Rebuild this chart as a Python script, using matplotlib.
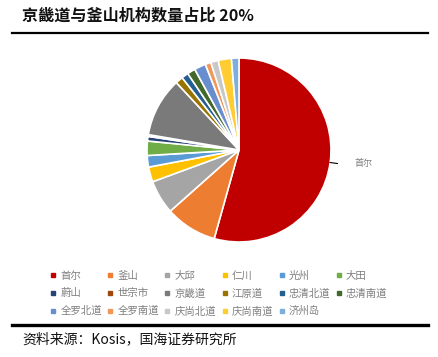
import numpy as np
import matplotlib
matplotlib.use("Agg")
import matplotlib.pyplot as plt
from matplotlib.lines import Line2D

plt.rcParams['font.family'] = ['Noto Sans CJK SC', 'DejaVu Sans']

# 数据
regions = ["首尔", "釜山", "大邱", "仁川", "光州", "大田",
           "蔚山", "世宗市", "京畿道", "江原道", "忠清北道", "忠清南道",
           "全罗北道", "全罗南道", "庆尚北道", "庆尚南道", "济州岛"]
shares = [53.8, 9.0, 5.9, 2.6, 2.0, 2.5,
          0.8, 0.3, 10.3, 1.3, 1.2, 1.4,
          2.0, 1.0, 1.3, 2.3, 1.3]
colors = ["#C00000", "#ED7D31", "#A5A5A5", "#FFC000", "#5B9BD5", "#70AD47",
          "#264478", "#9E480E", "#7A7A7A", "#997300", "#255E91", "#43682B",
          "#698ED0", "#F1975A", "#C8C8C8", "#FFCD33", "#7CAFDD"]

W, H = 439, 357
fig = plt.figure(figsize=(W / 100, H / 100), dpi=100)

# 标题与分隔线
fig.text(22 / W, 1 - 16 / H, "京畿道与釜山机构数量占比 20%", fontsize=11.6,
         fontweight="bold", va="center", ha="left", color="#111111")
fig.add_artist(Line2D([12 / W, 428 / W], [1 - 33 / H, 1 - 33 / H], color="black", lw=1.6))
fig.add_artist(Line2D([12 / W, 428 / W], [1 - 325 / H, 1 - 325 / H], color="black", lw=2.4))
fig.text(22 / W, 1 - 339 / H, "资料来源：Kosis，国海证券研究所", fontsize=10,
         va="center", ha="left", color="#111111")

# 饼图
cx, cy, r = 239, 150, 92
ax = fig.add_axes([(cx - r) / W, (H - cy - r) / H, 2 * r / W, 2 * r / H])
wedges, _ = ax.pie(shares, colors=colors, startangle=90, counterclock=False,
                   wedgeprops=dict(edgecolor="white", linewidth=1.2))
ax.set_aspect("equal")
ax.set_xlim(-1, 1)
ax.set_ylim(-1, 1)

w0 = wedges[0]
mid = np.deg2rad((w0.theta1 + w0.theta2) / 2)
ax.plot([np.cos(mid) * 1.0, np.cos(mid) * 1.08], [np.sin(mid) * 1.0, np.sin(mid) * 1.08],
        color="black", lw=0.8, clip_on=False)
ax.text(np.cos(mid) * 1.27, np.sin(mid) * 1.08, regions[0], fontsize=6.5,
        color="#7F7F7F", va="center", ha="left", clip_on=False)

# 图例（按行排列）
ncol = 6
order = []
for c in range(ncol):
    for rr in range(3):
        i = rr * ncol + c
        if i < len(regions):
            order.append(i)
handles = [Line2D([], [], marker="s", ls="", markersize=3, color=colors[i]) for i in order]
labels = [regions[i] for i in order]
fig.legend(handles, labels, ncol=ncol, loc="upper left",
           bbox_to_anchor=(50 / W, 1 - 271 / H), frameon=False, fontsize=7.5,
           handlelength=0.6, handletextpad=0.4, columnspacing=0.5,
           labelspacing=0.7, borderaxespad=0, borderpad=0,
           labelcolor="#7F7F7F")

fig.savefig("out.png", dpi=100)
